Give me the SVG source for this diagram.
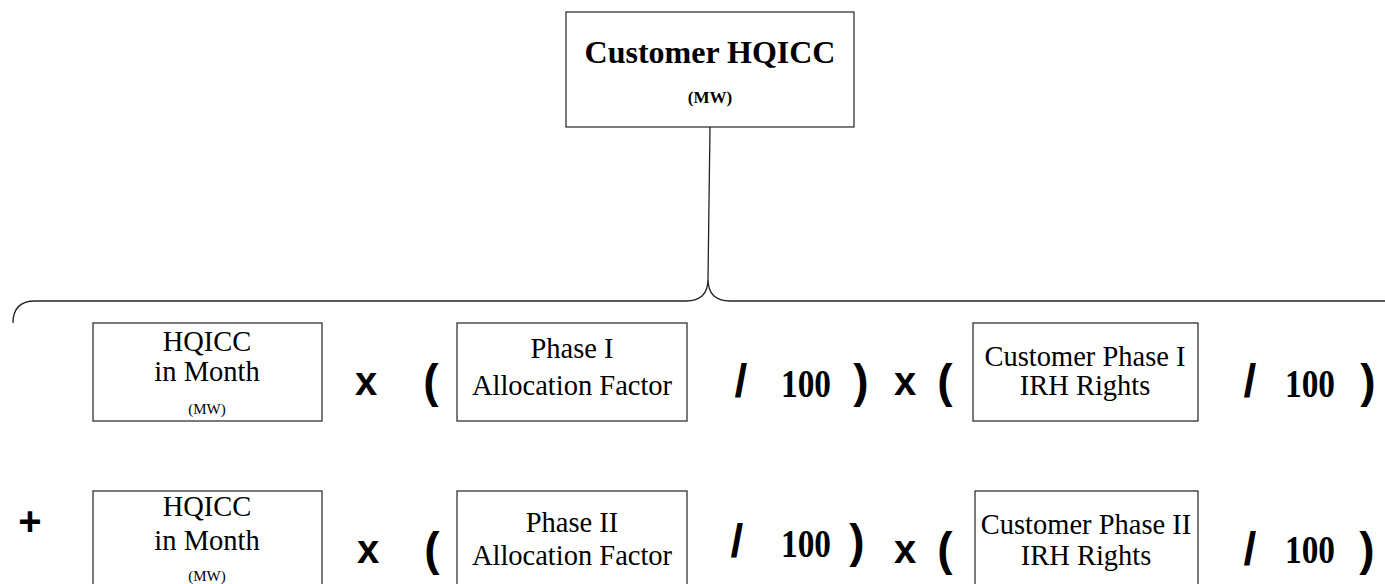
<svg xmlns="http://www.w3.org/2000/svg" width="1385" height="584" viewBox="0 0 1385 584">
<style>
.box{fill:#fff;stroke:#222;stroke-width:1.2}
.t{font-family:"Liberation Serif",serif;font-size:28.5px;fill:#000;text-anchor:middle}
.s{font-family:"Liberation Serif",serif;font-size:15px;fill:#000;text-anchor:middle}
.op{font-family:"Liberation Sans",sans-serif;font-weight:bold;font-size:40px;fill:#000;text-anchor:middle}
.pr{font-family:"Liberation Sans",sans-serif;font-weight:bold;font-size:46px;fill:#000;text-anchor:middle}
.num{font-family:"Liberation Serif",serif;font-weight:bold;font-size:39px;fill:#000;text-anchor:middle}
.ln{fill:none;stroke:#222;stroke-width:1.3}
</style>
<rect width="1385" height="584" fill="#fff"/>
<g id="connectors">
<path class="ln" d="M710,127 L708,279"/>
<path class="ln" d="M13,323 Q13,301 35,301 H686 Q708,301 708,279 Q708,301 730,301 H1385"/>
</g>
<g id="top">
<rect class="box" x="566" y="12" width="288" height="115"/>
<text x="710" y="63" style="font-family:'Liberation Serif',serif;font-weight:bold;font-size:32px;text-anchor:middle">Customer HQICC</text>
<text x="710" y="103" style="font-family:'Liberation Serif',serif;font-weight:bold;font-size:17px;text-anchor:middle">(MW)</text>
</g>
<g id="r1b1">
<rect class="box" x="93" y="323" width="229" height="98"/>
<text class="t" x="207" y="351">HQICC</text>
<text class="t" x="207" y="381">in Month</text>
<text class="s" x="207" y="414">(MW)</text>
</g>
<g id="r1b2">
<rect class="box" x="457" y="323" width="230" height="98"/>
<text class="t" x="572" y="358">Phase I</text>
<text class="t" x="572" y="395">Allocation Factor</text>
</g>
<g id="r1b3">
<rect class="box" x="973" y="323" width="225" height="98"/>
<text class="t" x="1085" y="366">Customer Phase I</text>
<text class="t" x="1085" y="395">IRH Rights</text>
</g>
<g id="r1ops">
<text class="op" x="366" y="395">x</text>
<text class="pr" x="431" y="397">(</text>
<text class="pr" x="741" y="397">/</text>
<text class="num" x="806" y="397" textLength="50" lengthAdjust="spacingAndGlyphs">100</text>
<text class="pr" x="861" y="397">)</text>
<text class="op" x="905" y="395">x</text>
<text class="pr" x="945" y="397">(</text>
<text class="pr" x="1250" y="397">/</text>
<text class="num" x="1310" y="397" textLength="50" lengthAdjust="spacingAndGlyphs">100</text>
<text class="pr" x="1368" y="397">)</text>
</g>
<g id="r2b1">
<rect class="box" x="93" y="491" width="229" height="100"/>
<text class="t" x="207" y="516">HQICC</text>
<text class="t" x="207" y="550">in Month</text>
<text class="s" x="207" y="581">(MW)</text>
</g>
<g id="r2b2">
<rect class="box" x="457" y="491" width="230" height="100"/>
<text class="t" x="572" y="532">Phase II</text>
<text class="t" x="572" y="565">Allocation Factor</text>
</g>
<g id="r2b3">
<rect class="box" x="975" y="491" width="223" height="100"/>
<text class="t" x="1086" y="534">Customer Phase II</text>
<text class="t" x="1086" y="565">IRH Rights</text>
</g>
<g id="r2ops">
<text class="op" x="30" y="535">+</text>
<text class="op" x="368" y="563">x</text>
<text class="pr" x="432" y="565">(</text>
<text class="pr" x="737" y="557">/</text>
<text class="num" x="806" y="557" textLength="50" lengthAdjust="spacingAndGlyphs">100</text>
<text class="pr" x="857" y="557">)</text>
<text class="op" x="905" y="563">x</text>
<text class="pr" x="945" y="565">(</text>
<text class="pr" x="1250" y="565">/</text>
<text class="num" x="1310" y="563" textLength="50" lengthAdjust="spacingAndGlyphs">100</text>
<text class="pr" x="1367" y="565">)</text>
</g>
</svg>
